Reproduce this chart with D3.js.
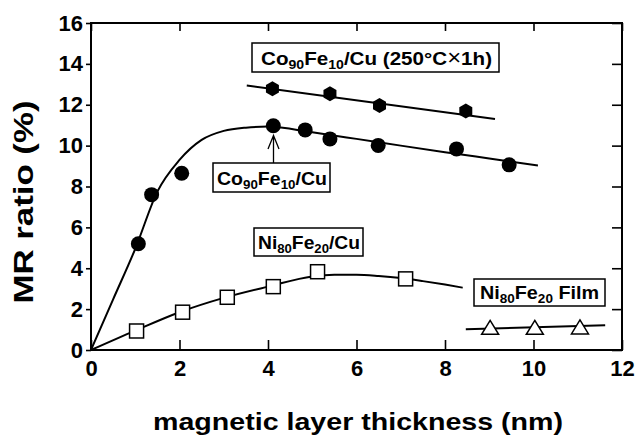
<!DOCTYPE html>
<html>
<head>
<meta charset="utf-8">
<script src="https://cdn.jsdelivr.net/npm/d3@7"></script>
<style>
  body { margin: 0; background: #fff; }
  svg { font-family: "Liberation Sans", Arial, sans-serif; font-weight: bold; }
</style>
</head>
<body>
<div id="chart"></div>
<script>
// measured points, Co90Fe10/Cu
const coFeX = [1.07, 1.37, 2.05, 4.12, 4.84, 5.40, 6.49, 8.26, 9.45];
const coFeY = [5.2, 7.6, 8.65, 10.97, 10.77, 10.33, 10.01, 9.84, 9.06];
// Co90Fe10/Cu annealed 250C x 1h
const annealX = [4.10, 5.40, 6.52, 8.47];
const annealY = [12.78, 12.54, 11.96, 11.70];
// Ni80Fe20/Cu
const niFeX = [1.03, 2.07, 3.08, 4.12, 5.12, 7.11];
const niFeY = [0.93, 1.85, 2.58, 3.10, 3.83, 3.48];
// Ni80Fe20 film
const filmX = [9.02, 10.03, 11.05];
const filmY = [1.06, 1.06, 1.08];

// drawn guide curves
const coFeFitX = [0, 0.5, 1, 1.5, 2, 2.5, 3, 3.5, 4, 5, 6, 7, 8, 9, 10.1];
const coFeFitY = [0, 2.48, 4.95, 7.75, 9.3, 10.28, 10.72, 10.88, 10.93, 10.65, 10.33, 10.0, 9.68, 9.37, 9.03];
const annealFitX = [3.52, 9.13];
const annealFitY = [12.94, 11.30];
const niFeFitX = [0, 1, 2, 3, 4, 5, 5.5, 6, 6.5, 7, 7.5, 8, 8.4];
const niFeFitY = [0, 0.95, 1.85, 2.55, 3.1, 3.6, 3.68, 3.68, 3.62, 3.52, 3.37, 3.2, 3.05];
const filmFitX = [8.47, 11.62];
const filmFitY = [1.01, 1.21];

const xTicks = [0, 2, 4, 6, 8, 10, 12];
const yTicks = [0, 2, 4, 6, 8, 10, 12, 14, 16];

const W = 637, H = 435;
const margin = { top: 23, right: 15, bottom: 85, left: 91 };
const width = W - margin.left - margin.right;
const height = H - margin.top - margin.bottom;

const x = d3.scaleLinear().domain([0, 12]).range([0, width]);
const y = d3.scaleLinear().domain([0, 16]).range([height, 0]);

const svg = d3.select("#chart").append("svg")
    .attr("width", W)
    .attr("height", H);

const g = svg.append("g")
    .attr("transform", `translate(${margin.left}, ${margin.top})`);

// axes
const styleAxis = (sel) => {
    sel.select(".domain").remove();
    sel.selectAll("line").attr("stroke", "#000").attr("stroke-width", 1.6);
    sel.selectAll("text").attr("fill", "#000").style("font-size", "22px").style("font-family", "inherit");
};

g.append("g")
    .attr("transform", `translate(0, ${height})`)
    .call(d3.axisBottom(x).tickValues(xTicks).tickSize(-10).tickPadding(10))
    .call(styleAxis);

g.append("g")
    .call(d3.axisTop(x).tickValues(xTicks).tickSize(-8).tickFormat(""))
    .call(styleAxis);

g.append("g")
    .call(d3.axisLeft(y).tickValues(yTicks).tickSize(5).tickPadding(3))
    .call(styleAxis);

g.append("g")
    .attr("transform", `translate(${width}, 0)`)
    .call(d3.axisRight(y).tickValues(yTicks).tickSize(-10).tickFormat(""))
    .call(styleAxis);

g.append("rect")
    .attr("width", width)
    .attr("height", height)
    .attr("fill", "none")
    .attr("stroke", "#000")
    .attr("stroke-width", 2);

// axis titles
svg.append("text")
    .attr("x", 358)
    .attr("y", 430)
    .attr("text-anchor", "middle")
    .attr("textLength", 410)
    .attr("lengthAdjust", "spacingAndGlyphs")
    .style("font-size", "24px")
    .text("magnetic layer thickness (nm)");

svg.append("text")
    .attr("transform", "translate(33, 202) rotate(-90)")
    .attr("text-anchor", "middle")
    .attr("textLength", 203)
    .attr("lengthAdjust", "spacingAndGlyphs")
    .style("font-size", "27px")
    .text("MR ratio (%)");

// curves
const zip = (xs, ys) => xs.map((v, i) => [v, ys[i]]);
const line = d3.line()
    .x(d => x(d[0]))
    .y(d => y(d[1]))
    .curve(d3.curveMonotoneX);

[[coFeFitX, coFeFitY], [annealFitX, annealFitY], [niFeFitX, niFeFitY], [filmFitX, filmFitY]]
    .forEach(([xs, ys]) => {
        g.append("path")
            .datum(zip(xs, ys))
            .attr("d", line)
            .attr("fill", "none")
            .attr("stroke", "#000")
            .attr("stroke-width", 2);
    });

// markers
g.selectAll(".cofe")
    .data(zip(coFeX, coFeY))
    .enter().append("circle")
    .attr("class", "cofe")
    .attr("cx", d => x(d[0]))
    .attr("cy", d => y(d[1]))
    .attr("r", 7.5)
    .attr("fill", "#000");

const hex = (r) => d3.range(6).map(i => {
    const a = Math.PI / 3 * i - Math.PI / 2;
    return [r * Math.cos(a), r * Math.sin(a)];
});
g.selectAll(".anneal")
    .data(zip(annealX, annealY))
    .enter().append("path")
    .attr("class", "anneal")
    .attr("transform", d => `translate(${x(d[0])}, ${y(d[1])})`)
    .attr("d", "M" + hex(7.5).join("L") + "Z")
    .attr("fill", "#000");

g.selectAll(".nife")
    .data(zip(niFeX, niFeY))
    .enter().append("rect")
    .attr("class", "nife")
    .attr("x", d => x(d[0]) - 7)
    .attr("y", d => y(d[1]) - 7)
    .attr("width", 14)
    .attr("height", 14)
    .attr("fill", "#fff")
    .attr("stroke", "#000")
    .attr("stroke-width", 1.5);

g.selectAll(".film")
    .data(zip(filmX, filmY))
    .enter().append("path")
    .attr("class", "film")
    .attr("transform", d => `translate(${x(d[0])}, ${y(d[1])})`)
    .attr("d", "M0,-8L8.5,6L-8.5,6Z")
    .attr("fill", "#fff")
    .attr("stroke", "#000")
    .attr("stroke-width", 1.5);

// labels in boxes
const boxLabel = (bx, by, bw, bh, tx, ty, tw, parts) => {
    svg.append("rect")
        .attr("x", bx).attr("y", by)
        .attr("width", bw).attr("height", bh)
        .attr("fill", "#fff")
        .attr("stroke", "#000")
        .attr("stroke-width", 1.5);
    const t = svg.append("text")
        .attr("x", tx).attr("y", ty)
        .attr("textLength", tw)
        .attr("lengthAdjust", "spacingAndGlyphs")
        .style("font-size", "19px");
    let shift = 0;
    parts.forEach(p => {
        const sub = p[1] === 1;
        const dy = sub ? 4 - shift : -shift;
        shift = sub ? 4 : 0;
        t.append("tspan")
            .attr("dy", dy)
            .style("font-size", sub ? "13px" : (p[1] === 2 ? "22px" : "19px"))
            .style("font-weight", p[1] === 2 ? "normal" : "bold")
            .text(p[0]);
    });
};

boxLabel(252, 43, 247, 29, 261, 65, 231,
    [["Co"], ["90", 1], ["Fe"], ["10", 1], ["/Cu (250°C"], ["×", 2], ["1h)"]]);
boxLabel(213, 163, 117, 29, 217, 185, 110,
    [["Co"], ["90", 1], ["Fe"], ["10", 1], ["/Cu"]]);
boxLabel(254, 228, 109, 28, 258, 249, 102,
    [["Ni"], ["80", 1], ["Fe"], ["20", 1], ["/Cu"]]);
boxLabel(474, 279, 131, 27, 480, 299, 119,
    [["Ni"], ["80", 1], ["Fe"], ["20", 1], [" Film"]]);

// arrow to the Co90Fe10/Cu curve
svg.append("path")
    .attr("d", "M273.5,163V136M268,149L273.5,135.5L279,149")
    .attr("fill", "none")
    .attr("stroke", "#000")
    .attr("stroke-width", 1.3);
</script>
</body>
</html>
